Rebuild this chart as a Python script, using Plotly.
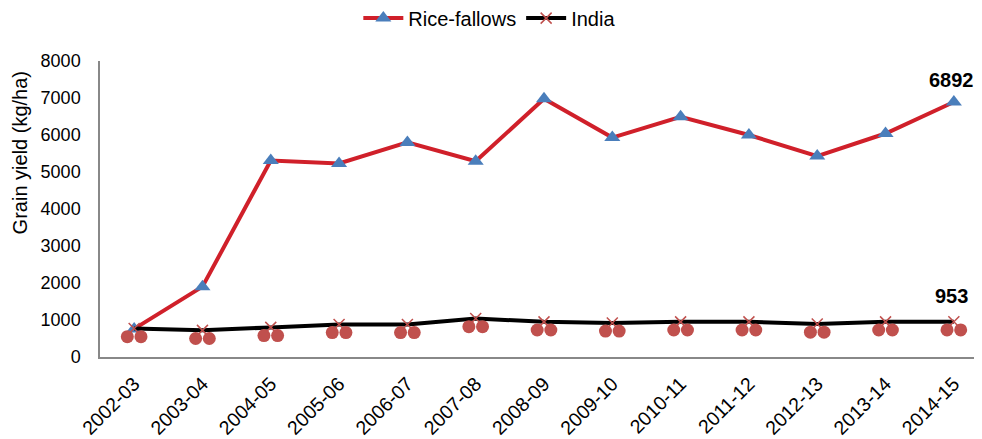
import plotly.graph_objects as go

seasons = ["2002-03", "2003-04", "2004-05", "2005-06", "2006-07", "2007-08", "2008-09",
           "2009-10", "2010-11", "2011-12", "2012-13", "2013-14", "2014-15"]
rice_fallows = [760, 1900, 5310, 5230, 5800, 5290, 6980, 5930, 6490, 6000, 5430, 6040, 6892]
india = [770, 720, 800, 880, 880, 1040, 950, 920, 950, 950, 890, 950, 953]
y_ticks = [0, 1000, 2000, 3000, 4000, 5000, 6000, 7000, 8000]

pos = list(range(len(seasons)))
dx = 0.1
dy = 220

FONT = "Arial, Liberation Sans, sans-serif"

fig = go.Figure()
fig.add_trace(go.Scatter(
    x=pos, y=rice_fallows, name="Rice-fallows", mode="lines+markers",
    line=dict(color="#D0202A", width=4),
    marker=dict(symbol="triangle-up", size=14, color="#4A7EBB"),
))
fig.add_trace(go.Scatter(
    x=pos, y=india, name="India", mode="lines+markers",
    line=dict(color="#000000", width=4),
    marker=dict(symbol="x-thin", size=11, line=dict(color="#C0504D", width=1.5)),
))
fig.add_trace(go.Scatter(
    x=[p - dx for p in pos] + [p + dx for p in pos],
    y=[v - dy for v in india] * 2,
    mode="markers", showlegend=False, hoverinfo="skip",
    marker=dict(symbol="circle", size=13, color="#C0504D"),
))

fig.add_annotation(x=pos[-1], y=rice_fallows[-1], text="<b>%d</b>" % rice_fallows[-1],
                   showarrow=False, yshift=22, xshift=-2,
                   font=dict(family=FONT, size=20, color="#000"))
fig.add_annotation(x=pos[-1], y=india[-1], text="<b>%d</b>" % india[-1],
                   showarrow=False, yshift=26, xshift=-2,
                   font=dict(family=FONT, size=20, color="#000"))
fig.add_annotation(xref="paper", yref="paper", x=-0.0905, y=0.69,
                   xanchor="center", yanchor="middle", textangle=-90,
                   text="Grain yield (kg/ha)", showarrow=False,
                   font=dict(family=FONT, size=20, color="#000"))

fig.update_layout(
    width=982, height=439,
    margin=dict(l=92, r=2, t=53, b=90, autoexpand=False),
    paper_bgcolor="white", plot_bgcolor="white",
    font=dict(family=FONT, size=18, color="#000"),
    legend=dict(orientation="h", x=0.439, xanchor="center", xref="paper",
                y=0.977, yanchor="middle", yref="container",
                font=dict(size=20), traceorder="normal", itemwidth=40),
    showlegend=True,
)
fig.update_xaxes(
    range=[-0.5, 12.5], tickmode="array", tickvals=pos, ticktext=seasons,
    tickangle=-45, showgrid=False, zeroline=False,
    showline=True, linecolor="#888888", linewidth=1.5,
    ticks="outside", ticklen=6, tickcolor="rgba(0,0,0,0)",
    automargin=False, tickfont=dict(size=19.5),
)
fig.update_yaxes(
    range=[0, 8000], tickmode="array", tickvals=y_ticks,
    showgrid=False, zeroline=False, showline=True, linecolor="#888888", linewidth=1.5,
    ticks="outside", ticklen=14, tickcolor="rgba(0,0,0,0)",
    automargin=False, tickfont=dict(size=18),
)

fig.write_html("out.html")
